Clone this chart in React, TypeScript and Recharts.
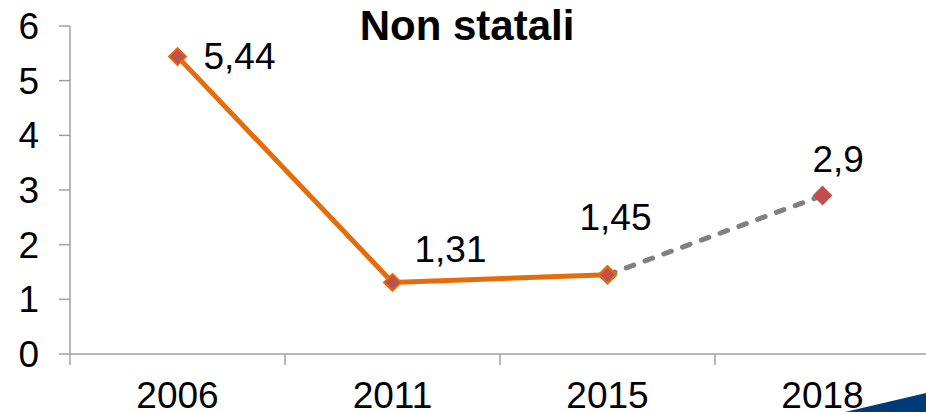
import React from "react"
import { Line, LineChart, XAxis, YAxis, LabelList } from "recharts"

const years = ["2006", "2011", "2015", "2018"]
const rilevati = [5.44, 1.31, 1.45, null]
const previsti = [null, null, 1.45, 2.9]
const yTicks = [0, 1, 2, 3, 4, 5, 6]

const data = years.map((year, i) => ({
  year,
  rilevati: rilevati[i],
  previsti: previsti[i],
}))

const CHART_W = 940
const CHART_H = 412
const MARGIN = { top: 26, right: 10, bottom: 0, left: 0 }
const Y_W = 70
const X_H = 58
const HALF_BAND = (CHART_W - MARGIN.left - MARGIN.right - Y_W) / years.length / 2

const FONT = "'Liberation Sans', Arial, sans-serif"
const AXIS = "#A0A0A0"
const ORANGE = "#E46C0A"
const RED = "#C0504D"
const GREY = "#808080"

// label placement relative to each point (dx = left edge of text, dy = vertical centre)
const labelOffsets = [
  { dx: 26, dy: 0 },
  { dx: 22, dy: -33 },
  { dx: -28, dy: -57 },
  { dx: -10, dy: -36 },
]

const fmt = (v: number) => String(v).replace(".", ",")

const XTick = (props: any) => {
  const { x, y, payload } = props
  const axisY = y - 18
  return (
    <g>
      <line x1={x - HALF_BAND} x2={x - HALF_BAND} y1={axisY} y2={axisY + 11} stroke={AXIS} strokeWidth={1.5} />
      <text x={x} y={y} dy={36} textAnchor="middle" fontSize={37} fontFamily={FONT} fill="#000">
        {payload.value}
      </text>
    </g>
  )
}

const diamond = (stroke: string) => (props: any) => {
  const { cx, cy, value, index } = props
  if (value == null || cx == null || cy == null) return <g key={`d-${index}`} />
  const r = 8.5
  return (
    <polygon
      key={`d-${index}`}
      points={`${cx},${cy - r} ${cx + r},${cy} ${cx},${cy + r} ${cx - r},${cy}`}
      fill={RED}
      stroke={stroke}
      strokeWidth={2}
    />
  )
}

const makeLabel = (show: number[]) => (props: any) => {
  const { x, y, value, index } = props
  if (value == null || !show.includes(index)) return null
  const o = labelOffsets[index]
  return (
    <text
      key={`l-${index}`}
      x={x + o.dx}
      y={y + o.dy}
      dominantBaseline="central"
      fontSize={37}
      fontFamily={FONT}
      fill="#000"
    >
      {fmt(value)}
    </text>
  )
}

export default function App() {
  return (
    <div style={{ position: "absolute", left: 0, top: 0, width: 926, height: 412, overflow: "hidden", background: "#fff" }}>
      <LineChart width={CHART_W} height={CHART_H} data={data} margin={MARGIN}>
        <YAxis
          width={Y_W}
          domain={[0, 6]}
          ticks={yTicks}
          interval={0}
          stroke={AXIS}
          strokeWidth={1.5}
          tickSize={11}
          tickMargin={20}
          tick={{ fontSize: 37, fontFamily: FONT, fill: "#000" }}
        />
        <XAxis
          dataKey="year"
          height={X_H}
          stroke={AXIS}
          strokeWidth={1.5}
          tickSize={0}
          tickMargin={18}
          tickLine={false}
          interval={0}
          padding={{ left: HALF_BAND, right: HALF_BAND }}
          tick={<XTick />}
        />
        <Line
          dataKey="previsti"
          stroke={GREY}
          strokeWidth={5}
          strokeDasharray="8 12"
          strokeLinecap="round"
          dot={diamond(RED)}
          connectNulls={false}
          isAnimationActive={false}
        >
          <LabelList dataKey="previsti" content={makeLabel([3])} />
        </Line>
        <Line
          dataKey="rilevati"
          stroke={ORANGE}
          strokeWidth={5}
          dot={diamond(ORANGE)}
          connectNulls={false}
          isAnimationActive={false}
        >
          <LabelList dataKey="rilevati" content={makeLabel([0, 1, 2])} />
        </Line>
      </LineChart>
      <div
        style={{
          position: "absolute",
          left: 0,
          top: 6,
          width: 934,
          textAlign: "center",
          fontFamily: FONT,
          fontWeight: "bold",
          fontSize: 42,
          lineHeight: "40px",
          color: "#000",
        }}
      >
        Non statali
      </div>
      <svg width={926} height={412} style={{ position: "absolute", left: 0, top: 0, pointerEvents: "none" }}>
        <polygon points="845,412 926,393 926,412" fill="#003A78" />
      </svg>
    </div>
  )
}
